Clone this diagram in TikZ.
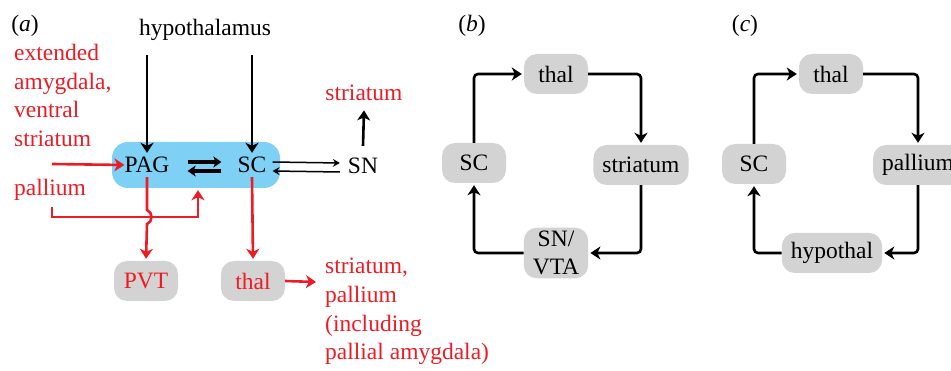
\documentclass[tikz,border=0pt]{standalone}
\usepackage{fontspec}
\setmainfont{Liberation Serif}
\usetikzlibrary{arrows.meta}
\definecolor{nred}{RGB}{237,28,36}
\definecolor{nblue}{RGB}{126,208,244}
\definecolor{ngray}{RGB}{211,211,211}
\begin{document}
\begin{tikzpicture}[x=1pt,y=-1pt,
  font=\fontsize{23.5}{28.7}\selectfont,
  region/.style={fill=ngray, rounded corners=13pt, minimum width=64pt,
    minimum height=40pt, inner xsep=9pt, inner ysep=5pt},
  plain/.style={inner sep=0pt, minimum height=24pt},
  link/.style={line width=2.6pt, -{Stealth[length=10pt,width=13pt,inset=3pt]},
    rounded corners=4pt, shorten >=2pt},
  rlink/.style={link, draw=nred, color=nred},
  thin link/.style={line width=1.5pt, -{Stealth[length=7pt,width=8pt,inset=2.5pt]}},
  fat link/.style={line width=3.2pt, -{Stealth[length=8pt,width=11pt,inset=2pt]}},
  rtext/.style={text=nred, align=left, inner sep=0pt}]
\useasboundingbox (0,0) rectangle (951,371);
\clip (0,0) rectangle (951,371);

% ---------------- panel (a) ----------------
\node (lbla) at (25,26) {(\textit{a})};
\node (hyp) at (205,30) {hypothalamus};
\node[fill=nblue, rounded corners=16pt, minimum width=168pt, minimum height=46pt,
  inner sep=0pt] (core) at (196,165) {};
\node[plain] (pag) at (147,165) {PAG};
\node[plain, inner xsep=3pt] (sc) at (252,165) {SC};
\node[plain, inner xsep=8pt] (sn) at (363,166) {SN};
\node[text=nred] (strup) at (364,93) {striatum};

\node[rtext, anchor=north west] (ext) at (14,44) {extended\\amygdala,\\ventral\\striatum};
\node[rtext, anchor=west] (pal) at (14,190) {pallium};

\node[region, text=nred] (pvt) at (146,281) {PVT};
\node[region, text=nred] (tha) at (253,281) {thal};
\node[rtext, anchor=north west] (outs) at (325,258)
  {striatum,\\pallium\\(including\\pallial amygdala)};

% hypothalamic inputs
\draw[link, shorten >=0pt] (hyp.south -| pag) ++(0,11) -- (pag.north);
\draw[link, shorten >=0pt] (hyp.south -| sc) ++(0,11) -- (sc.north);

% PAG <-> SC
\draw[fat link] ([xshift=18pt,yshift=3pt]pag.east) -- ([xshift=-13pt,yshift=3pt]sc.west);
\draw[fat link] ([xshift=-13pt,yshift=-6pt]sc.west) -- ([xshift=18pt,yshift=-6pt]pag.east);

% SC <-> SN
\draw[thin link] ([xshift=3pt,yshift=3pt]sc.east) -- ([yshift=3pt]sn.west);
\draw[thin link] ([yshift=-6pt]sn.west) -- ([xshift=3pt,yshift=-6pt]sc.east);
\draw[link, shorten >=0pt] ([yshift=8pt]sn.north) -- ([yshift=-6pt]strup.south);

% forebrain inputs
\coordinate (extend) at (52,164);
\draw[rlink, shorten >=0pt] (extend) -- (pag.west);
\coordinate (palend) at (52,207);
\coordinate (jn) at (198,217);
\draw[rlink, rounded corners=0pt] (palend) |- (jn) -- (jn |- core.south);

% outputs to PVT and thalamus
\draw[rlink, rounded corners=0pt] (pag.south) -- (147,210)
  .. controls (153,212) and (153,222) .. (147,224) -- (pvt.north);
\draw[rlink] (sc.south) -- (tha.north);
\coordinate (thend) at (316,282);
\draw[rlink, shorten >=0pt] (tha.east) -- (thend);

% ---------------- panel (b) ----------------
\node (lblb) at (472,26) {(\textit{b})};
\node[region] (thb) at (556,74) {thal};
\node[region] (stb) at (641,165) {striatum};
\node[region] (scb) at (474,163) {SC};
\node[region, align=center, inner ysep=3pt] (snb) at (556,253) {SN/\\VTA};
\draw[link] (scb.north) |- (thb.west);
\draw[link] (thb.east) -| (stb.north);
\draw[link] (stb.south) |- (snb.east);
\draw[link] (snb.west) -| (scb.south);

% ---------------- panel (c) ----------------
\node (lblc) at (745,26) {(\textit{c})};
\node[region] (thc) at (831,74) {thal};
\node[region] (pac) at (918,165) {pallium};
\node[region] (scc) at (754,164) {SC};
\node[region] (hyc) at (832,253) {hypothal};
\draw[link] (scc.north) |- (thc.west);
\draw[link] (thc.east) -| (pac.north);
\draw[link] (pac.south) |- (hyc.east);
\draw[link] (hyc.west) -| (scc.south);
\end{tikzpicture}
\end{document}
